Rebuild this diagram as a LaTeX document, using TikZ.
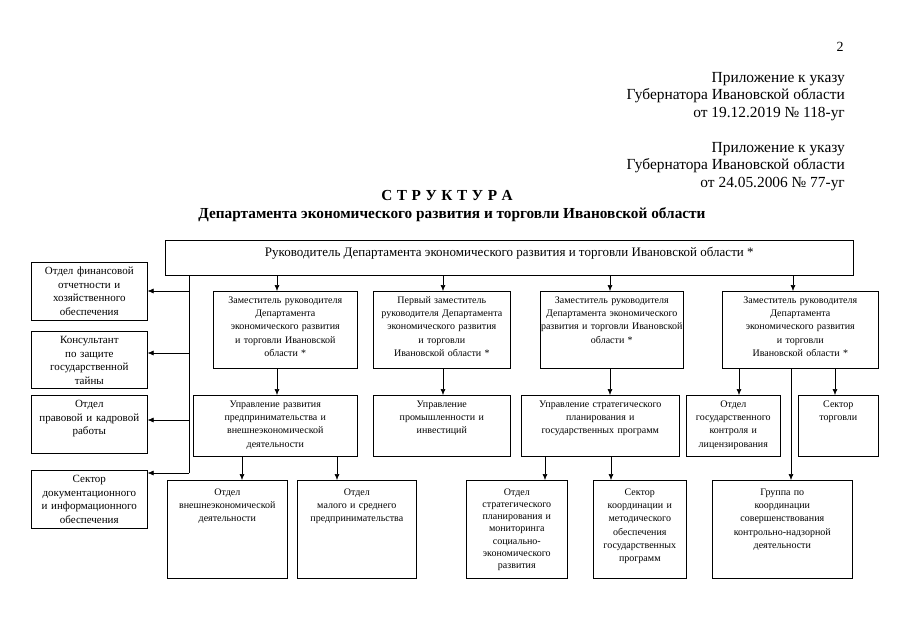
\documentclass[tikz,border=0pt]{standalone}
\usepackage{fontspec}
\setmainfont{Liberation Serif}
\usetikzlibrary{arrows.meta}

\tikzset{
  unit/.style 2 args={draw, line width=0.6pt, align=center, anchor=north west,
    font=\fontsize{10}{13.3}\selectfont, inner xsep=0pt, inner ysep=2pt,
    /utils/exec={\pgfmathsetlengthmacro\unitwidth{#1}\pgfmathsetlengthmacro\unitdepth{#2-14}},
    text width=\unitwidth, text height=10pt, text depth=\unitdepth},
  side/.style={font=\fontsize{11}{13.7}\selectfont},
  low/.style 2 args={unit={#1}{#2}, /utils/exec={\pgfmathsetlengthmacro\unitdepth{#2-17}}, text height=13pt},
  arr/.style={-{Latex[length=6pt,width=5pt]}, line width=0.6pt},
}

\begin{document}
\begin{tikzpicture}[x=1pt, y=-1pt]
	\useasboundingbox (0,0) rectangle (905,640);

	\node[font=\fontsize{14}{17}\selectfont, inner sep=0] (page) at (840,47) {2};
	\node[font=\fontsize{15.4}{17.5}\selectfont, align=right, anchor=north east, inner sep=0] (appx1) at (845,72)
		{Приложение к указу\\ Губернатора Ивановской области\\ от 19.12.2019 № 118-уг};
	\node[font=\fontsize{15.4}{17.5}\selectfont, align=right, anchor=north east, inner sep=0] (appx2) at (845,142)
		{Приложение к указу\\ Губернатора Ивановской области\\ от 24.05.2006 № 77-уг};
	\node[font=\fontsize{15.3}{18}\selectfont\bfseries\addfontfeature{LetterSpace=5}, inner sep=0] (title) at (447,196) {С Т Р У К Т У Р А};
	\node[font=\fontsize{15.3}{18}\selectfont\bfseries, inner sep=0] (subtitle) at (452,215)
		{Департамента экономического развития и торговли Ивановской области};

	\node[draw, line width=0.6pt, anchor=north west, font=\fontsize{13}{15}\selectfont, inner sep=2pt,
		minimum width=688, text height=14.5pt, text depth=16.5pt] (head) at (165,240)
		{Руководитель Департамента экономического развития и торговли Ивановской области *};

	\node[unit={116}{58}, side] (l1) at (31,262) {Отдел финансовой\\ отчетности и\\ хозяйственного\\ обеспечения};
	\node[unit={116}{57}, side] (l2) at (31,331) {Консультант\\ по защите\\ государственной\\ тайны};
	\node[unit={116}{58}, side] (l3) at (31,395) {Отдел\\ правовой и кадровой\\ работы};
	\node[unit={116}{58}, side] (l4) at (31,470) {Сектор\\ документационного\\ и информационного\\ обеспечения};

	\node[unit={144}{77}] (d1) at (213,291) {Заместитель руководителя\\ Департамента\\ экономического развития\\ и торговли Ивановской\\ области *};
	\node[unit={137}{77}] (d2) at (373,291) {Первый заместитель\\ руководителя Департамента\\ экономического развития\\ и торговли\\ Ивановской области *};
	\node[unit={143}{77}] (d3) at (540,291) {Заместитель руководителя\\ Департамента экономического\\ развития и торговли Ивановской\\ области *};
	\node[unit={156}{77}] (d4) at (722,291) {Заместитель руководителя\\ Департамента\\ экономического развития\\ и торговли\\ Ивановской области *};

	\node[unit={164}{61}] (u1) at (193,395) {Управление развития\\ предпринимательства и\\ внешнеэкономической\\ деятельности};
	\node[unit={137}{61}] (u2) at (373,395) {Управление\\ промышленности и\\ инвестиций};
	\node[unit={158}{61}] (u3) at (521,395) {Управление стратегического\\ планирования и\\ государственных программ};
	\node[unit={94}{61}] (o1) at (686,395) {Отдел\\ государственного\\ контроля и\\ лицензирования};
	\node[unit={80}{61}] (s1) at (798,395) {Сектор\\ торговли};

	\node[low={120}{98}] (o2) at (167,480) {Отдел\\ внешнеэкономической\\ деятельности};
	\node[low={119}{98}] (o3) at (297,480) {Отдел\\ малого и среднего\\ предпринимательства};
	\node[low={101}{98}, font=\fontsize{10}{12.2}\selectfont] (o4) at (466,480) {Отдел\\ стратегического\\ планирования и\\ мониторинга\\ социально-\\ экономического\\ развития};
	\node[low={93}{98}] (s2) at (593,480) {Сектор\\ координации и\\ методического\\ обеспечения\\ государственных\\ программ};
	\node[low={140}{98}] (g1) at (712,480) {Группа по\\ координации\\ совершенствования\\ контрольно-надзорной\\ деятельности};

	\coordinate (a1) at (189,291);
	\coordinate (a2) at (189,353);
	\coordinate (a3) at (189,420);
	\coordinate (a4) at (189,473);
	\draw[line width=0.6pt] (head.south -| a1) -- (a4);
	\foreach \i in {1,...,4}
		\draw[arr] (a\i) -- (a\i -| l\i.east);

	\foreach \from/\to/\x in {head/d1/277, head/d2/443, head/d3/610, head/d4/793,
			d1/u1/277, d2/u2/443, d3/u3/610, d4/o1/739, d4/s1/835, d4/g1/791,
			u1/o2/242, u1/o3/337, u3/o4/545, u3/s2/611}
		\draw[arr] (\from.south -| \x,0) -- (\to.north -| \x,0);
\end{tikzpicture}
\end{document}
